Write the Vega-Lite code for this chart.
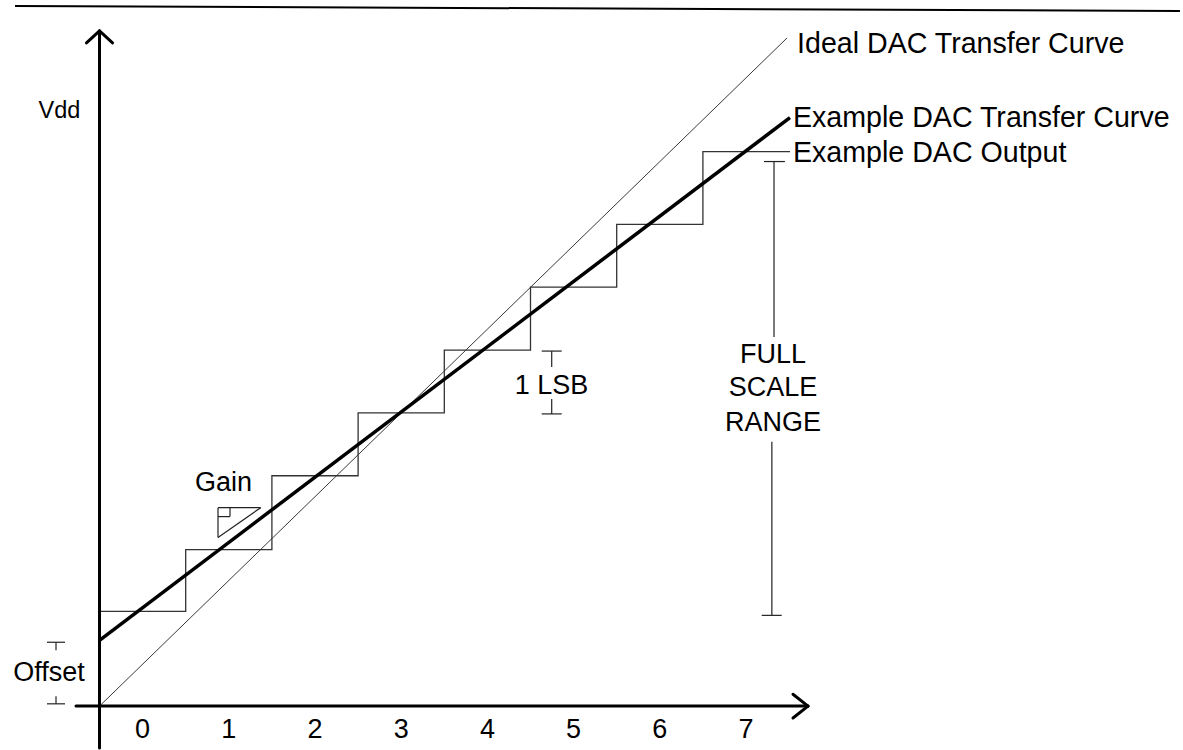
{
  "$schema": "https://vega.github.io/schema/vega-lite/v6.json",
  "width": 1183,
  "height": 750,
  "padding": 0,
  "autosize": {"type": "fit", "contains": "padding"},
  "background": "white",
  "config": {"view": {"stroke": null}, "text": {"font": "Liberation Sans"}},
  "datasets": {
    "border": [
      {"x": -0.9803, "y": 8.278, "x2": 12.534, "y2": 8.219}
    ],
    "axes": [
      {"x": 0, "y": -0.4953, "x2": 0, "y2": 7.983},
      {"x": -0.151, "y": 7.842, "x2": 0, "y2": 7.983},
      {"x": 0.151, "y": 7.842, "x2": 0, "y2": 7.983},
      {"x": -0.2726, "y": 0, "x2": 8.219, "y2": 0},
      {"x": 8.045, "y": 0.14, "x2": 8.219, "y2": 0},
      {"x": 8.045, "y": -0.14, "x2": 8.219, "y2": 0}
    ],
    "brackets": [
      {"x": -0.609, "y": 0.755, "x2": -0.4, "y2": 0.755},
      {"x": -0.5046, "y": 0.755, "x2": -0.5046, "y2": 0.66},
      {"x": -0.609, "y": 0.027, "x2": -0.4, "y2": 0.027},
      {"x": -0.5046, "y": 0.027, "x2": -0.5046, "y2": 0.118},
      {"x": 5.13, "y": 4.198, "x2": 5.362, "y2": 4.198},
      {"x": 5.246, "y": 4.198, "x2": 5.246, "y2": 4.009},
      {"x": 5.246, "y": 3.632, "x2": 5.246, "y2": 3.455},
      {"x": 5.13, "y": 3.455, "x2": 5.362, "y2": 3.455},
      {"x": 7.709, "y": 6.439, "x2": 7.952, "y2": 6.439},
      {"x": 7.825, "y": 6.439, "x2": 7.825, "y2": 4.363},
      {"x": 7.8, "y": 3.125, "x2": 7.8, "y2": 1.073},
      {"x": 7.682, "y": 1.073, "x2": 7.914, "y2": 1.073},
      {"x": 1.3747, "y": 2.3467, "x2": 1.87, "y2": 2.3467},
      {"x": 1.3747, "y": 2.3467, "x2": 1.3747, "y2": 1.993},
      {"x": 1.3747, "y": 1.993, "x2": 1.87, "y2": 2.3467},
      {"x": 1.3747, "y": 2.2406, "x2": 1.5139, "y2": 2.2406},
      {"x": 1.5139, "y": 2.2406, "x2": 1.5139, "y2": 2.3467}
    ],
    "ideal": [
      {"x": 0, "y": 0, "x2": 7.976, "y2": 7.9}
    ],
    "example": [
      {"x": 0, "y": 0.778, "x2": 8.01, "y2": 6.958}
    ],
    "steps": [
      {"x": 0, "y": 1.12},
      {"x": 1, "y": 1.851},
      {"x": 2, "y": 2.724},
      {"x": 3, "y": 3.467},
      {"x": 4, "y": 4.21},
      {"x": 5, "y": 4.953},
      {"x": 6, "y": 5.696},
      {"x": 7, "y": 6.557},
      {"x": 8.01, "y": 6.557}
    ],
    "bigLabels": [
      {"x": 8.092, "y": 7.724, "label": "Ideal DAC Transfer Curve"},
      {"x": 8.045, "y": 6.851, "label": "Example DAC Transfer Curve"},
      {"x": 8.045, "y": 6.439, "label": "Example DAC Output"}
    ],
    "midLabels": [
      {"x": 0.5, "y": -0.377, "label": "0"},
      {"x": 1.5, "y": -0.377, "label": "1"},
      {"x": 2.5, "y": -0.377, "label": "2"},
      {"x": 3.5, "y": -0.377, "label": "3"},
      {"x": 4.5, "y": -0.377, "label": "4"},
      {"x": 5.5, "y": -0.377, "label": "5"},
      {"x": 6.5, "y": -0.377, "label": "6"},
      {"x": 7.5, "y": -0.377, "label": "7"},
      {"x": -0.586, "y": 0.295, "label": "Offset"},
      {"x": 1.4385, "y": 2.539, "label": "Gain"},
      {"x": 5.244, "y": 3.691, "label": "1 LSB"},
      {"x": 7.813, "y": 4.057, "label": "FULL"},
      {"x": 7.813, "y": 3.667, "label": "SCALE"},
      {"x": 7.813, "y": 3.255, "label": "RANGE"}
    ],
    "smallLabels": [
      {"x": -0.464, "y": 6.958, "label": "Vdd"}
    ]
  },
  "layer": [
    {
      "data": {"name": "border"},
      "mark": {"type": "rule", "strokeWidth": 2, "color": "black"},
      "encoding": {
        "x": {"field": "x", "type": "quantitative", "scale": {"domain": [-1.1543, 12.5696], "nice": false, "zero": false}, "axis": null},
        "y": {"field": "y", "type": "quantitative", "scale": {"domain": [-0.4953, 8.3491], "nice": false, "zero": false}, "axis": null},
        "x2": {"field": "x2"},
        "y2": {"field": "y2"}
      }
    },
    {
      "data": {"name": "ideal"},
      "mark": {"type": "rule", "strokeWidth": 0.9, "color": "#222"},
      "encoding": {
        "x": {"field": "x", "type": "quantitative", "scale": {"domain": [-1.1543, 12.5696], "nice": false, "zero": false}, "axis": null},
        "y": {"field": "y", "type": "quantitative", "scale": {"domain": [-0.4953, 8.3491], "nice": false, "zero": false}, "axis": null},
        "x2": {"field": "x2"},
        "y2": {"field": "y2"}
      }
    },
    {
      "data": {"name": "steps"},
      "mark": {"type": "line", "interpolate": "step-after", "strokeWidth": 1.3, "color": "#333"},
      "encoding": {
        "x": {"field": "x", "type": "quantitative", "scale": {"domain": [-1.1543, 12.5696], "nice": false, "zero": false}, "axis": null},
        "y": {"field": "y", "type": "quantitative", "scale": {"domain": [-0.4953, 8.3491], "nice": false, "zero": false}, "axis": null}
      }
    },
    {
      "data": {"name": "brackets"},
      "mark": {"type": "rule", "strokeWidth": 1.2, "color": "#222"},
      "encoding": {
        "x": {"field": "x", "type": "quantitative", "scale": {"domain": [-1.1543, 12.5696], "nice": false, "zero": false}, "axis": null},
        "y": {"field": "y", "type": "quantitative", "scale": {"domain": [-0.4953, 8.3491], "nice": false, "zero": false}, "axis": null},
        "x2": {"field": "x2"},
        "y2": {"field": "y2"}
      }
    },
    {
      "data": {"name": "example"},
      "mark": {"type": "rule", "strokeWidth": 3.5, "color": "black"},
      "encoding": {
        "x": {"field": "x", "type": "quantitative", "scale": {"domain": [-1.1543, 12.5696], "nice": false, "zero": false}, "axis": null},
        "y": {"field": "y", "type": "quantitative", "scale": {"domain": [-0.4953, 8.3491], "nice": false, "zero": false}, "axis": null},
        "x2": {"field": "x2"},
        "y2": {"field": "y2"}
      }
    },
    {
      "data": {"name": "axes"},
      "mark": {"type": "rule", "strokeWidth": 3, "color": "black", "strokeCap": "round"},
      "encoding": {
        "x": {"field": "x", "type": "quantitative", "scale": {"domain": [-1.1543, 12.5696], "nice": false, "zero": false}, "axis": null},
        "y": {"field": "y", "type": "quantitative", "scale": {"domain": [-0.4953, 8.3491], "nice": false, "zero": false}, "axis": null},
        "x2": {"field": "x2"},
        "y2": {"field": "y2"}
      }
    },
    {
      "data": {"name": "bigLabels"},
      "mark": {"type": "text", "align": "left", "baseline": "alphabetic", "fontSize": 28.6, "color": "black"},
      "encoding": {
        "x": {"field": "x", "type": "quantitative", "scale": {"domain": [-1.1543, 12.5696], "nice": false, "zero": false}, "axis": null},
        "y": {"field": "y", "type": "quantitative", "scale": {"domain": [-0.4953, 8.3491], "nice": false, "zero": false}, "axis": null},
        "text": {"field": "label"}
      }
    },
    {
      "data": {"name": "midLabels"},
      "mark": {"type": "text", "align": "center", "baseline": "alphabetic", "fontSize": 27, "color": "black"},
      "encoding": {
        "x": {"field": "x", "type": "quantitative", "scale": {"domain": [-1.1543, 12.5696], "nice": false, "zero": false}, "axis": null},
        "y": {"field": "y", "type": "quantitative", "scale": {"domain": [-0.4953, 8.3491], "nice": false, "zero": false}, "axis": null},
        "text": {"field": "label"}
      }
    },
    {
      "data": {"name": "smallLabels"},
      "mark": {"type": "text", "align": "center", "baseline": "alphabetic", "fontSize": 23.5, "color": "black"},
      "encoding": {
        "x": {"field": "x", "type": "quantitative", "scale": {"domain": [-1.1543, 12.5696], "nice": false, "zero": false}, "axis": null},
        "y": {"field": "y", "type": "quantitative", "scale": {"domain": [-0.4953, 8.3491], "nice": false, "zero": false}, "axis": null},
        "text": {"field": "label"}
      }
    }
  ]
}
